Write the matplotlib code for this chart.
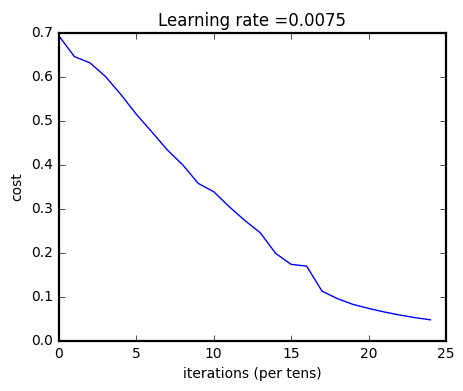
import matplotlib
matplotlib.use('Agg')
import matplotlib.pyplot as plt

plt.style.use('classic')

# cost recorded every 100 iterations
iterations = list(range(25))
costs = [0.693, 0.646, 0.632, 0.601, 0.560, 0.515, 0.475, 0.434, 0.400, 0.358,
         0.339, 0.305, 0.274, 0.246, 0.199, 0.174, 0.170, 0.113, 0.096, 0.083,
         0.074, 0.066, 0.059, 0.053, 0.048]
learning_rate = 0.0075

fig = plt.figure(figsize=(4.64, 3.91), dpi=100)
fig.patch.set_facecolor('white')
ax = fig.add_axes([0.127, 0.128, 0.834, 0.788])
ax.plot(iterations, costs, color='b')
ax.set_xlim(0, 25)
ax.set_ylim(0, 0.7)
for s in ax.spines.values():
    s.set_linewidth(1.6)
ax.tick_params(labelsize=10)
ax.set_ylabel('cost', fontsize=10)
ax.set_xlabel('iterations (per tens)', fontsize=10)
ax.set_title("Learning rate =" + str(learning_rate), fontsize=12)

fig.savefig('out.png', dpi=100, facecolor='white')
